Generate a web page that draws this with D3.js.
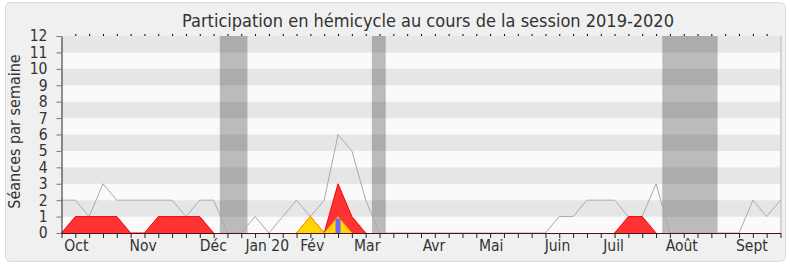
<!DOCTYPE html>
<html>
<head>
<meta charset="utf-8">
<script src="https://cdn.jsdelivr.net/npm/d3@7"></script>
<style>
  body { margin: 0; background: #fff; }
  svg text { font-family: "DejaVu Sans Condensed", "DejaVu Sans", Verdana, sans-serif; fill: #333; }
</style>
</head>
<body>
<svg id="chart" width="790" height="267"></svg>
<script>
// weekly values, week 0 = start of October 2019
var total = [2, 2, 1, 3, 2, 2, 2, 2, 2, 1, 2, 2, 0, 0, 1, 0, 1, 2, 1, 2, 6, 5, 2, 0,
	0, 0, 0, 0, 0, 0, 0, 0, 0, 0, 0, 0, 1, 1, 2, 2, 2, 1, 1, 3, 0, 0, 0, 0, 0, 0, 2, 1, 2];
var present = [0, 1, 1, 1, 1, 0, 0, 1, 1, 1, 1, 0, 0, 0, 0, 0, 0, 0, 1, 0, 3, 1, 0, 0,
	0, 0, 0, 0, 0, 0, 0, 0, 0, 0, 0, 0, 0, 0, 0, 0, 0, 1, 1, 0, 0, 0, 0, 0, 0, 0, 0, 0, 0];
var questions = [0, 0, 0, 0, 0, 0, 0, 0, 0, 0, 0, 0, 0, 0, 0, 0, 0, 0, 1, 0, 1, 0, 0, 0,
	0, 0, 0, 0, 0, 0, 0, 0, 0, 0, 0, 0, 0, 0, 0, 0, 0, 0, 0, 0, 0, 0, 0, 0, 0, 0, 0, 0, 0];
var interventions = [{ week: 20, value: 1 }];
var vacations = [[11.45, 13.45], [22.45, 23.45], [43.45, 47.45]];
var months = ["Oct", "Nov", "Déc", "Jan 20", "Fév", "Mar", "Avr", "Mai", "Juin", "Juil", "Août", "Sept"];
var monthPos = [1.07, 5.91, 10.98, 14.88, 18.13, 22.11, 26.94, 31.08, 35.87, 39.93, 44.86, 49.93];
var yTicks = d3.range(0, 13);

var svg = d3.select("#chart");
var margin = { top: 36, right: 9.5, bottom: 34, left: 61.5 };
var width = 790 - margin.left - margin.right;
var height = 267 - margin.top - margin.bottom;

var xScale = d3.scaleLinear().domain([0, total.length - 1]).range([0, width]);
var yScale = d3.scaleLinear().domain([0, 12]).range([height, 0]);

// frame
svg.append("rect")
	.attr("x", 5.5).attr("y", 2.5)
	.attr("width", 780).attr("height", 259)
	.attr("rx", 5)
	.attr("fill", "#f0f0f0")
	.attr("stroke", "#dcdcdc");

svg.append("text")
	.attr("x", 428).attr("y", 27)
	.attr("text-anchor", "middle")
	.style("font-size", "18px")
	.text("Participation en hémicycle au cours de la session 2019-2020");

svg.append("text")
	.attr("transform", "translate(20," + (margin.top + height / 2 - 3) + ") rotate(-90)")
	.attr("text-anchor", "middle")
	.style("font-size", "16px")
	.text("Séances par semaine");

var g = svg.append("g")
	.attr("transform", "translate(" + margin.left + "," + margin.top + ")");

// striped background
g.selectAll(".stripe")
	.data(d3.range(0, 12))
	.enter()
	.append("rect")
	.attr("x", 0)
	.attr("y", function (d) { return yScale(d + 1); })
	.attr("width", width)
	.attr("height", function (d) { return yScale(d) - yScale(d + 1); })
	.attr("fill", function (d) { return d % 2 ? "#e6e6e6" : "#fafafa"; });

g.append("line")
	.attr("x1", width + 0.5).attr("x2", width + 0.5)
	.attr("y1", 0).attr("y2", height)
	.attr("stroke", "#c8c8c8")
	.attr("stroke-width", 1.5);

// holidays
g.selectAll(".vac")
	.data(vacations)
	.enter()
	.append("rect")
	.attr("x", function (d) { return xScale(d[0]); })
	.attr("y", 0)
	.attr("width", function (d) { return xScale(d[1]) - xScale(d[0]); })
	.attr("height", height)
	.attr("fill", "rgba(0,0,0,0.25)");

var line = d3.line()
	.x(function (d, i) { return xScale(i); })
	.y(function (d) { return yScale(d); });

g.append("path")
	.datum(total)
	.attr("d", line)
	.attr("fill", "none")
	.attr("stroke", "#aaa")
	.attr("stroke-width", 1);

var area = d3.area()
	.x(function (d, i) { return xScale(i); })
	.y0(height)
	.y1(function (d) { return yScale(d); });

function drawSeries(values, fill, stroke) {
	g.append("path")
		.datum(values)
		.attr("d", area)
		.attr("fill", fill);
	// outline only where the series rises above zero
	var edge = d3.line()
		.defined(function (d, i) {
			return d > 0 || values[i - 1] > 0 || values[i + 1] > 0;
		})
		.x(function (d, i) { return xScale(i); })
		.y(function (d) { return yScale(d); });
	g.append("path")
		.datum(values)
		.attr("d", edge)
		.attr("fill", "none")
		.attr("stroke", stroke)
		.attr("stroke-width", 1);
}

drawSeries(present, "#ff3333", "#ff0000");
drawSeries(questions, "#ffd700", "#ff9900");

g.selectAll(".interv")
	.data(interventions)
	.enter()
	.append("rect")
	.attr("x", function (d) { return xScale(d.week) - 2.5; })
	.attr("y", function (d) { return yScale(d.value) + 2; })
	.attr("width", 5)
	.attr("height", function (d) { return height - yScale(d.value) - 2; })
	.attr("fill", "#6b6bff");

// axes
var yAxis = g.append("g")
	.call(d3.axisLeft(yScale).tickValues(yTicks).tickSize(5).tickPadding(9).tickSizeOuter(0));
yAxis.select(".domain").attr("stroke", "#222");
yAxis.selectAll(".tick line").attr("stroke", "#777");
yAxis.selectAll(".tick text").style("font-size", "15.5px").attr("fill", "#333");

var xAxis = g.append("g")
	.attr("transform", "translate(0," + height + ")")
	.call(d3.axisBottom(xScale).tickValues(d3.range(0, total.length)).tickSize(5).tickFormat("").tickSizeOuter(0));
xAxis.select(".domain").attr("stroke", "#5a0f0f");
xAxis.selectAll(".tick line").attr("stroke", "#222");

var topAxis = g.append("g")
	.call(d3.axisTop(xScale).tickValues(d3.range(1, total.length - 1)).tickSize(2).tickFormat(""));
topAxis.select(".domain").remove();
topAxis.selectAll(".tick line").attr("stroke", "#000");

g.selectAll(".month")
	.data(months)
	.enter()
	.append("text")
	.attr("x", function (d, i) { return xScale(monthPos[i]); })
	.attr("y", height + 18)
	.attr("text-anchor", "middle")
	.style("font-size", "15.5px")
	.text(function (d) { return d; });
</script>
</body>
</html>
